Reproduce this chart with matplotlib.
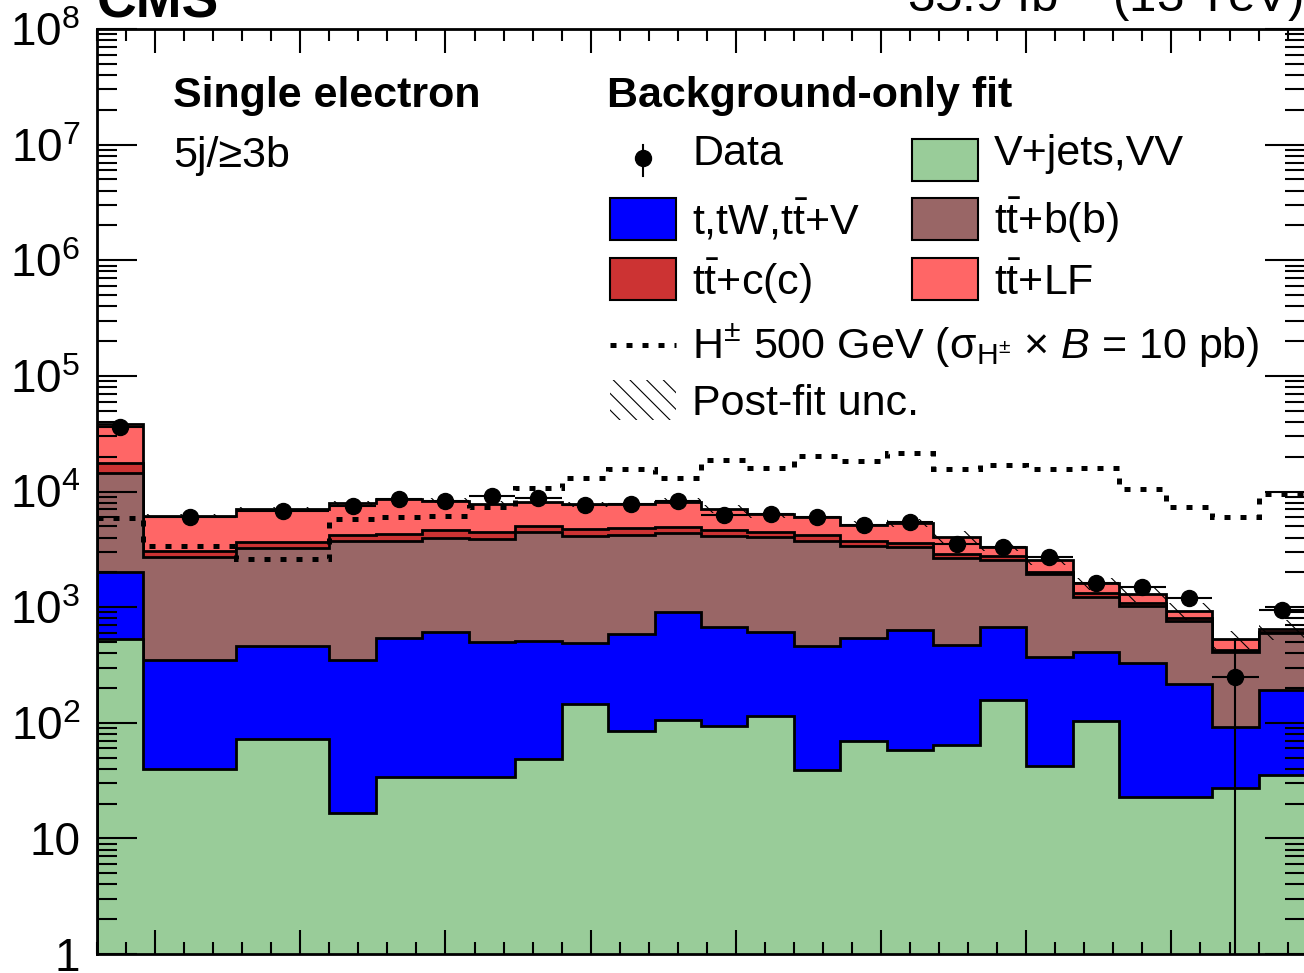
import numpy as np
import matplotlib
matplotlib.use("Agg")
import matplotlib.pyplot as plt
from matplotlib.patches import Rectangle
from matplotlib.lines import Line2D
from matplotlib.ticker import FixedLocator, LogLocator, NullFormatter

plt.rcParams['font.family'] = ['Liberation Sans', 'DejaVu Sans']
plt.rcParams['mathtext.fontset'] = 'custom'
plt.rcParams['mathtext.rm'] = 'Liberation Sans'
plt.rcParams['mathtext.it'] = 'Liberation Sans:italic'
plt.rcParams['mathtext.bf'] = 'Liberation Sans:bold'
plt.rcParams['mathtext.fallback'] = 'stixsans'
plt.rcParams['hatch.linewidth'] = 0.8

# bin edges (in bin-width units, first bin single, next two double width)
bin_edges = [0, 1, 3, 5, 6, 7, 8, 9, 10, 11, 12, 13, 14, 15, 16, 17, 18, 19,
             20, 21, 22, 23, 24, 25, 26]

# post-fit yields per process
vjets_vv = [528, 40, 72, 16.5, 34, 34, 34, 49, 145, 85, 106, 94, 114, 39, 70, 58,
            64, 157, 42, 104, 23, 23, 27, 35]
single_top = [1487, 309, 389, 332, 504, 580, 463, 461, 342, 501, 797, 584, 500, 422,
              468, 577, 407, 513, 331, 308, 308, 194, 65, 157]
tt_bb = [12565, 2386, 2812, 3391, 3202, 3376, 3368, 3935, 3668, 3632, 3452, 3477,
         3461, 3279, 2867, 2700, 2179, 1890, 1564, 821, 693, 547, 320, 402]
tt_cc = [3020, 350, 417, 478, 535, 665, 635, 595, 590, 592, 615, 500, 425, 478,
         355, 225, 235, 230, 68, 87, 56, 36, 14, 20]
tt_lf = [20600, 3105, 3425, 3702, 4295, 3685, 3310, 3140, 3020, 3000, 3210, 2375,
         1865, 1847, 1380, 1825, 1190, 545, 555, 290, 214, 133, 105, 30]

# relative post-fit uncertainty on total
postfit_unc = [0.04, 0.04, 0.04, 0.04, 0.05, 0.05, 0.05, 0.05, 0.05, 0.05, 0.08, 0.08,
               0.08, 0.08, 0.08, 0.08, 0.12, 0.08, 0.10, 0.12, 0.15, 0.17, 0.18, 0.20]

# data
data = [36000, 6000, 6840, 7500, 8600, 8300, 9200, 8750, 7650, 7800, 8200, 6300,
        6400, 6000, 5150, 5400, 3520, 3340, 2700, 1630, 1500, 1190, 250, 950]
data_err_lo = [190, 77, 83, 87, 93, 91, 96, 94, 87, 88, 91, 79, 80, 77, 72, 73,
               59, 58, 52, 40, 39, 34, 249.5, 31]
data_err_hi = [190, 77, 83, 87, 93, 91, 96, 94, 87, 88, 91, 79, 80, 77, 72, 73,
               59, 58, 52, 40, 39, 34, 290, 31]

# H+ 500 GeV signal
hplus_500 = [5870, 3400, 2610, 5800, 6070, 6140, 7400, 10700, 13200, 15600, 13200,
             18800, 15900, 20300, 18200, 21700, 15600, 17100, 15700, 15900, 10500,
             7300, 6000, 9500]

colors = ['#99cc99', '#0000ff', '#996666', '#cc3333', '#ff6666']

W, H = 1304, 973
fig = plt.figure(figsize=(W / 100, H / 100), dpi=100)
ax = fig.add_axes([97 / W, 19 / H, 1208 / W, 925 / H])

edges = np.array(bin_edges, dtype=float)
centers = 0.5 * (edges[1:] + edges[:-1])
halfw = 0.5 * (edges[1:] - edges[:-1])

layers = np.array([vjets_vv, single_top, tt_bb, tt_cc, tt_lf], dtype=float)
tops = np.cumsum(layers, axis=0)
total = tops[-1]

# stack, drawn from the top one down
for top, col in reversed(list(zip(tops, colors))):
    ax.stairs(top, edges, baseline=0.01, fill=True, facecolor=col,
              edgecolor='black', linewidth=2)

# post-fit uncertainty
unc = np.array(postfit_unc)
ax.stairs(total * (1 + unc), edges, baseline=total * (1 - unc), fill=True,
          facecolor='none', edgecolor='black', hatch='\\', linewidth=0)

# signal
ax.stairs(hplus_500, edges, baseline=None, color='black', linewidth=3.6,
          linestyle=(0, (1.2, 2.0)))

# data
ax.errorbar(centers, data, xerr=halfw, yerr=[data_err_lo, data_err_hi], fmt='o',
            color='black', ms=11.5, elinewidth=1.5, capsize=0, zorder=10)

ax.set_xlim(0, 26)
ax.set_yscale('log')
ax.set_ylim(1, 1e8)

ax.xaxis.set_major_locator(FixedLocator(np.arange(1.25, 26, 3.125)))
ax.xaxis.set_minor_locator(FixedLocator(np.arange(0, 26.01, 0.625)))
ax.yaxis.set_major_locator(FixedLocator([10.0 ** k for k in range(9)]))
ax.yaxis.set_minor_locator(LogLocator(base=10, subs=np.arange(2, 10), numticks=20))
ax.yaxis.set_minor_formatter(NullFormatter())
ax.set_yticklabels(['1', '10'] + [r'$10^{%d}$' % k for k in range(2, 9)])

ax.tick_params(which='both', direction='in', top=True, right=True, width=1.5)
ax.tick_params(axis='x', which='both', labelbottom=False)
ax.tick_params(axis='x', which='major', length=17)
ax.tick_params(axis='x', which='minor', length=8.6)
ax.tick_params(axis='y', which='major', length=28.8, pad=12, labelsize=33)
ax.tick_params(axis='y', which='minor', length=14.4)
for sp in ax.spines.values():
    sp.set_linewidth(2)


def fx(px):
    return px / W


def fy(py):
    return 1 - py / H


# header
fig.text(fx(97), fy(17), 'CMS', fontsize=39.6, fontweight='bold', va='baseline')
fig.text(fx(1303), fy(12), r'35.9 fb$^{-1}$ (13 TeV)', fontsize=35.5,
         ha='right', va='baseline')
fig.text(fx(173), fy(107), 'Single electron', fontsize=31, fontweight='bold',
         va='baseline')
fig.text(fx(173), fy(167), '5j/≥3b', fontsize=31, va='baseline')
fig.text(fx(607), fy(107), 'Background-only fit', fontsize=31, fontweight='bold',
         va='baseline')

# legend
tt = r't$\bar{\mathrm{t}}$'
fig.add_artist(Line2D([fx(643)] * 2, [fy(145), fy(176)], color='black', lw=1.5,
                      transform=fig.transFigure))
fig.add_artist(Line2D([fx(643)], [fy(158)], marker='o', ms=11.5, color='black',
                      transform=fig.transFigure))
fig.text(fx(692), fy(165), 'Data', fontsize=31, va='baseline')

boxes = [
    (912, 139, colors[0], 'V+jets,VV', 165),
    (610, 198, colors[1], 't,tW,' + tt + '+V', 234),
    (912, 198, colors[2], tt + '+b(b)', 234),
    (610, 258, colors[3], tt + '+c(c)', 295),
    (912, 258, colors[4], tt + '+LF', 295),
]
for bx, by, col, lab, base in boxes:
    fig.add_artist(Rectangle((fx(bx), fy(by + 42)), 66 / W, 42 / H,
                             facecolor=col, edgecolor='black', lw=1.5,
                             transform=fig.transFigure))
    fig.text(fx(bx + 82), fy(base), lab, fontsize=31, va='baseline')

fig.add_artist(Line2D([fx(610), fx(676)], [fy(345)] * 2, color='black', lw=3.6,
                      linestyle=(0, (1.2, 2.0)), transform=fig.transFigure))
fig.text(fx(692), fy(358),
         r'H$^{\pm}$ 500 GeV (σ$_{\mathrm{H}^{\pm}}$ × $B$ = 10 pb)',
         fontsize=31, va='baseline')

fig.add_artist(Rectangle((fx(610), fy(420)), 66 / W, 40 / H, facecolor='none',
                         edgecolor='black', hatch='\\\\', lw=0,
                         transform=fig.transFigure))
fig.text(fx(692), fy(415), 'Post-fit unc.', fontsize=31, va='baseline')

fig.savefig('out.png', dpi=100)
